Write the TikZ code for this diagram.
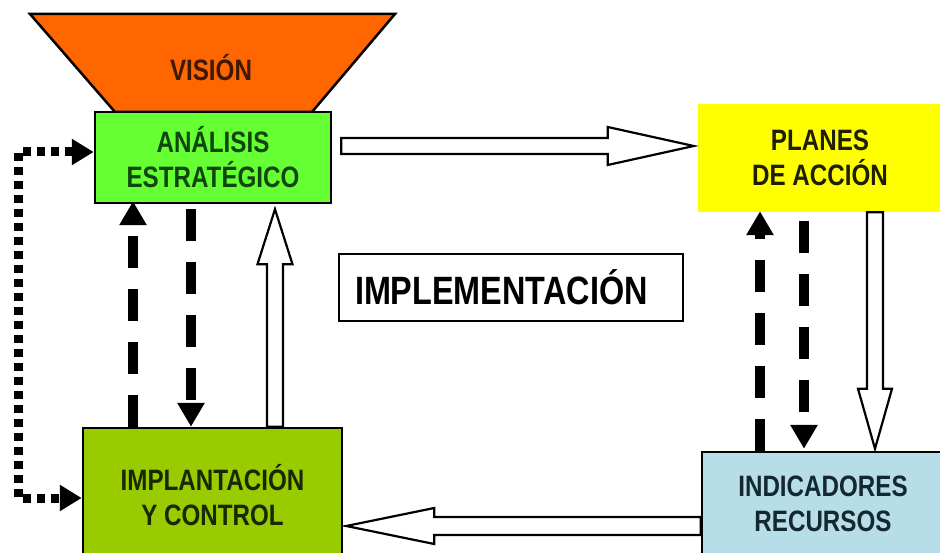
\documentclass[tikz,border=0pt]{standalone}
\usepackage{fontspec}
\newfontfamily\narrow{Liberation Sans}[FakeStretch=0.82]
\usetikzlibrary{arrows.meta,calc}
\definecolor{visorange}{RGB}{255,102,0}
\definecolor{anagreen}{RGB}{102,255,51}
\definecolor{implgreen}{RGB}{153,204,0}
\definecolor{indicblue}{RGB}{183,221,232}
\definecolor{planyellow}{RGB}{255,255,0}
\definecolor{vistext}{RGB}{60,25,0}
\definecolor{anatext}{RGB}{15,70,15}
\definecolor{plantext}{RGB}{30,30,0}
\definecolor{impltext}{RGB}{25,40,0}
\definecolor{indictext}{RGB}{20,40,50}
\begin{document}
\begin{tikzpicture}[x=1pt,y=-1pt,
  box/.style={draw=black, line width=2.5pt, inner sep=0pt, align=center,
    font={\narrow\bfseries\fontsize{29.5}{35}\selectfont}},
  hollow/.style={draw=black, line width=2.2pt, fill=white, line join=miter},
  dasharrow/.style={line width=10pt, dash pattern=on 32pt off 21pt,
    -{Triangle[length=24pt,width=26pt]}},
  dotarrow/.style={line width=9pt, dash pattern=on 8pt off 6pt,
    {Triangle[length=22pt,width=25pt]}-{Triangle[length=22pt,width=25pt]}}]
\useasboundingbox (0,0) rectangle (940,553);
\clip (0,0) rectangle (940,553);
\fill[white] (0,0) rectangle (940,553);
% vision trapezoid
\draw[line width=2.5pt, fill=visorange, line join=miter] (30,14) -- (395,14) -- (312,112) -- (115,112) -- cycle;
\node[text=vistext, inner sep=0pt, font={\narrow\bfseries\fontsize{29.5}{35}\selectfont}] (vision) at (211,68) {VISIÓN};
% boxes
\node[box, fill=anagreen, text=anatext, minimum width=236, minimum height=91] (ana) at (213,157.5) {ANÁLISIS\\ESTRATÉGICO};
\node[box, draw=none, fill=planyellow, text=plantext, minimum width=244, minimum height=108] (plan) at (820,158) {PLANES\\DE ACCIÓN};
\node[box, fill=implgreen, text=impltext, minimum width=259, minimum height=134] (impl) at (212.5,495) {IMPLANTACIÓN\\Y CONTROL};
\node[box, fill=indicblue, text=indictext, minimum width=242, minimum height=104] (indic) at (823,504) {INDICADORES\\RECURSOS};
\node[draw=black, line width=2.5pt, fill=white, minimum width=344, minimum height=67,
  text width=312, align=left, inner xsep=16, inner ysep=0pt,
  font={\narrow\bfseries\fontsize{39.5}{44}\selectfont}] (imp) at (511,287.5) {IMPLEMENTACIÓN};
% hollow block arrows
\coordinate (a1s) at ($(ana.east |- 0,146)+(9,0)$);
\coordinate (a1t) at ($(plan.west |- 0,146)+(-3,0)$);
\draw[hollow] ($(a1s)+(0,-8)$) -- ($(a1t)+(-86,-8)$) -- ($(a1t)+(-86,-19)$) -- (a1t)
  -- ($(a1t)+(-86,19)$) -- ($(a1t)+(-86,8)$) -- ($(a1s)+(0,8)$) -- cycle;
\coordinate (a2s) at ($(875,0 |- plan.south)+(0,-1)$);
\coordinate (a2t) at ($(875,0 |- indic.north)+(0,-2)$);
\draw[hollow] ($(a2s)+(-8,0)$) -- ($(a2t)+(-8,-60)$) -- ($(a2t)+(-17,-60)$) -- (a2t)
  -- ($(a2t)+(17,-60)$) -- ($(a2t)+(8,-60)$) -- ($(a2s)+(8,0)$) -- cycle;
\coordinate (a3s) at (indic.west |- 0,526);
\coordinate (a3t) at ($(impl.east |- 0,526)+(3,0)$);
\draw[hollow] ($(a3s)+(0,-9)$) -- ($(a3t)+(88,-9)$) -- ($(a3t)+(88,-18)$) -- (a3t)
  -- ($(a3t)+(88,18)$) -- ($(a3t)+(88,9)$) -- ($(a3s)+(0,9)$) -- cycle;
\coordinate (a4s) at (275,0 |- impl.north);
\coordinate (a4t) at ($(275,0 |- ana.south)+(0,5)$);
\draw[hollow] ($(a4s)+(-8,0)$) -- ($(a4t)+(-8,55)$) -- ($(a4t)+(-17.5,55)$) -- (a4t)
  -- ($(a4t)+(17.5,55)$) -- ($(a4t)+(8,55)$) -- ($(a4s)+(8,0)$) -- cycle;
% dashed arrows
\draw[dasharrow] (133,0 |- impl.north) -- ($(133,0 |- ana.south)+(0,-3)$);
\draw[dasharrow] ($(191,0 |- ana.south)+(0,5)$) -- (191,0 |- impl.north);
\draw[dasharrow] (760,0 |- indic.north) -- ($(760,0 |- plan.south)+(0,-2)$);
\draw[dasharrow] ($(804,0 |- plan.south)+(0,8)$) -- ($(804,0 |- indic.north)+(0,-2)$);
% dotted loop
\draw[dotarrow] (ana.west |- 0,152) -- (18,152) -- (18,498) -- (impl.west |- 0,498);
\end{tikzpicture}
\end{document}
